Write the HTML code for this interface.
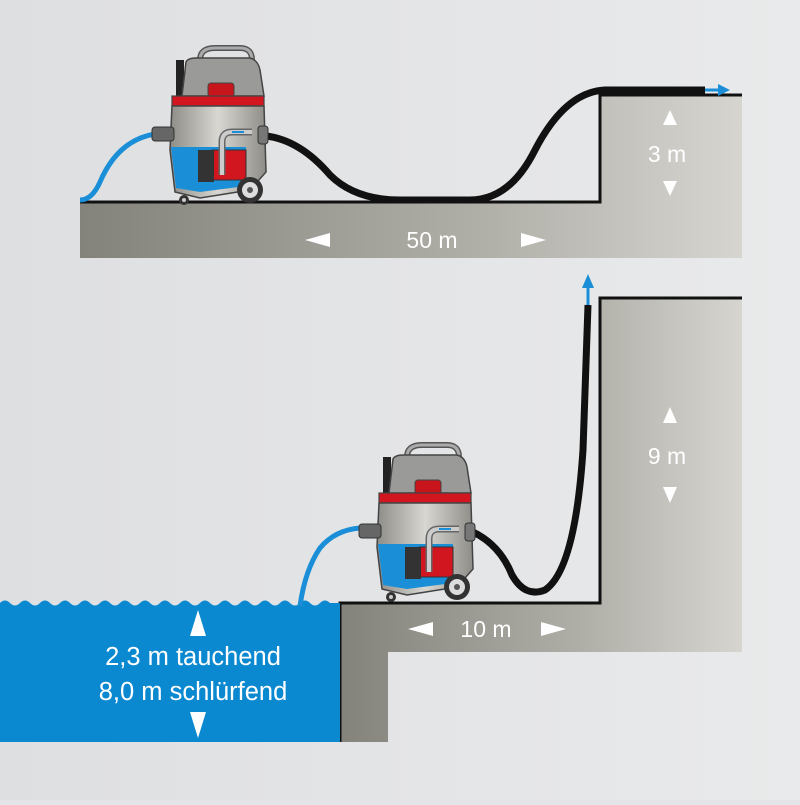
<!DOCTYPE html>
<html><head><style>
html,body{margin:0;padding:0;}
body{width:800px;height:800px;overflow:hidden;background:#e4e5e7;}
svg text{font-family:"Liberation Sans",sans-serif;fill:#fff;}
</style></head><body>
<svg width="800" height="800" viewBox="0 0 800 800" xmlns="http://www.w3.org/2000/svg">
<defs>
<linearGradient id="bg" x1="0" y1="0" x2="1" y2="0"><stop offset="0" stop-color="#dedfe1"/><stop offset="1" stop-color="#e9eaeb"/></linearGradient>
<linearGradient id="gr" x1="0" y1="0" x2="1" y2="0"><stop offset="0" stop-color="#83827b"/><stop offset="0.6" stop-color="#afaea7"/><stop offset="1" stop-color="#d6d5d0"/></linearGradient>
<linearGradient id="steel" x1="0" y1="0" x2="1" y2="0"><stop offset="0" stop-color="#8e8d88"/><stop offset="0.5" stop-color="#d8d7d2"/><stop offset="1" stop-color="#8e8d88"/></linearGradient>
<g id="vac">
 <path d="M200,60 Q200,48 215,48 L240,48 Q252,48 252,60" fill="none" stroke="#555" stroke-width="6"/>
 <path d="M200,60 Q200,48 215,48 L240,48 Q252,48 252,60" fill="none" stroke="#aaa" stroke-width="3"/>
 <rect x="176" y="60" width="8" height="36" fill="#222"/>
 <path d="M182,96 L186,62 Q188,58 196,58 L250,58 Q258,60 260,70 L264,96 Z" fill="#9a9a98" stroke="#444" stroke-width="1.5"/>
 <rect x="208" y="83" width="26" height="14" rx="3" fill="#c8141b" stroke="#444"/>
 <rect x="172" y="96" width="92" height="10" fill="#d2161f" stroke="#444" stroke-width="1.2"/>
 <path d="M172,106 L264,106 L266,172 L250,190 L200,198 L175,192 L170,150 Z" fill="url(#steel)" stroke="#444" stroke-width="1.5"/>
 <path d="M171,147 L246,147 L246,186 L200,192 L176,188 Z" fill="#1a8fd8"/>
 <rect x="212" y="150" width="34" height="30" fill="#d2161f" stroke="#333"/>
 <rect x="198" y="150" width="16" height="32" fill="#333"/>
 <path d="M222,175 L222,142 Q222,132 232,132 L252,132" fill="none" stroke="#666" stroke-width="7"/>
 <path d="M222,175 L222,142 Q222,132 232,132 L252,132" fill="none" stroke="#ccc" stroke-width="4"/>
 <path d="M232,132 L244,132" stroke="#1a8fd8" stroke-width="2"/>
 <circle cx="250" cy="190" r="13" fill="#333"/><circle cx="250" cy="190" r="8" fill="#ddd"/><circle cx="250" cy="190" r="3" fill="#555"/>
 <circle cx="184" cy="200" r="5" fill="#333"/><circle cx="184" cy="200" r="2" fill="#ccc"/>
 <rect x="152" y="127" width="22" height="14" rx="3" fill="#666" stroke="#333"/>
 <rect x="258" y="126" width="10" height="18" rx="3" fill="#777" stroke="#333"/>
</g>
</defs>
<rect width="800" height="800" fill="url(#bg)"/>

<path d="M80,202 L600,202 L600,95 L742,95 L742,258 L80,258 Z" fill="url(#gr)"/>
<path d="M80,202 L600,202 L600,95 L742,95" fill="none" stroke="#111" stroke-width="3"/>

<path d="M80,200 Q92,200 100,182 Q118,140 155,134" fill="none" stroke="#1a8fd8" stroke-width="5"/>
<path d="M266,136 Q300,140 330,175 Q355,200 400,200 L470,200 Q510,200 535,150 Q565,92 605,90 L705,90" fill="none" stroke="#111" stroke-width="7"/>
<path d="M705,90 L722,90" stroke="#1a8fd8" stroke-width="3"/><path d="M718,84 L730,90 L718,96 Z" fill="#1a8fd8"/>
<use href="#vac"/>

<path d="M670,110 L663,125 L677,125 Z" fill="#fff"/>
<path d="M670,196 L663,181 L677,181 Z" fill="#fff"/>
<text x="667" y="162" font-size="23" text-anchor="middle">3 m</text>
<path d="M305,240 L330,233 L330,247 Z" fill="#fff"/>
<path d="M546,240 L521,233 L521,247 Z" fill="#fff"/>
<text x="432" y="248" font-size="23" text-anchor="middle">50 m</text>

<path d="M340,603 L600,603 L600,298 L742,298 L742,652 L388,652 L388,742 L340,742 Z" fill="url(#gr)"/>
<path d="M340,742 L340,603 L600,603 L600,298 L742,298" fill="none" stroke="#111" stroke-width="3"/>

<path d="M0,603 Q5,598 10,603 Q15,608 20,603 Q25,598 30,603 Q35,608 40,603 Q45,598 50,603 Q55,608 60,603 Q65,598 70,603 Q75,608 80,603 Q85,598 90,603 Q95,608 100,603 Q105,598 110,603 Q115,608 120,603 Q125,598 130,603 Q135,608 140,603 Q145,598 150,603 Q155,608 160,603 Q165,598 170,603 Q175,608 180,603 Q185,598 190,603 Q195,608 200,603 Q205,598 210,603 Q215,608 220,603 Q225,598 230,603 Q235,608 240,603 Q245,598 250,603 Q255,608 260,603 Q265,598 270,603 Q275,608 280,603 Q285,598 290,603 Q295,608 300,603 Q305,598 310,603 Q315,608 320,603 Q325,598 330,603 L340,603 L340,742 L0,742 Z" fill="#0a88d0"/>

<path d="M300,606 Q305,570 320,548 Q335,530 360,528" fill="none" stroke="#1a8fd8" stroke-width="5"/>
<path d="M473,532 Q500,545 512,575 Q525,598 545,590 Q575,570 583,450 L588,305" fill="none" stroke="#111" stroke-width="7"/>
<path d="M588,305 L588,285" stroke="#1a8fd8" stroke-width="3"/><path d="M582,288 L588,274 L594,288 Z" fill="#1a8fd8"/>
<use href="#vac" transform="translate(207,397)"/>

<path d="M670,407 L663,423 L677,423 Z" fill="#fff"/>
<path d="M670,503 L663,487 L677,487 Z" fill="#fff"/>
<text x="667" y="464" font-size="23" text-anchor="middle">9 m</text>
<path d="M408,629 L433,622 L433,636 Z" fill="#fff"/>
<path d="M566,629 L541,622 L541,636 Z" fill="#fff"/>
<text x="486" y="637" font-size="23" text-anchor="middle">10 m</text>
<path d="M198,610 L190,636 L206,636 Z" fill="#fff"/>
<path d="M198,738 L190,712 L206,712 Z" fill="#fff"/>
<text x="193" y="665" font-size="25.5" text-anchor="middle">2,3 m tauchend</text>
<text x="193" y="700" font-size="25.5" text-anchor="middle">8,0 m schlürfend</text>
</svg>
</body></html>
